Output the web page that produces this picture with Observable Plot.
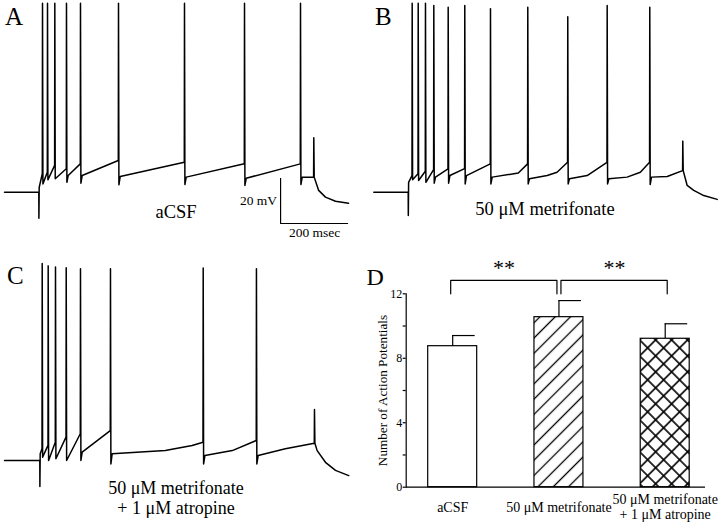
<!DOCTYPE html>
<html><head><meta charset="utf-8">
<script src="https://cdn.jsdelivr.net/npm/d3@7"></script>
<script src="https://cdn.jsdelivr.net/npm/@observablehq/plot@0.6"></script>
<style>
body{margin:0;background:#fff}
#fig{position:relative;width:720px;height:523px;background:#fff;overflow:hidden;font-family:"Liberation Serif","Times New Roman",serif}
#fig .panel{position:absolute}
#fig svg{overflow:visible}
</style></head><body><div id="fig"></div>
<script>
// ---------- Panel A-C: membrane potential traces (ms, mV) ----------
// step: [step-on time, resting level, step artifact, level right after step]
const stepA = [100.9, -65, -76.6, -62.8];
const spikeTimesA = [111.8, 126.5, 148, 182.3, 223.5, 335.3, 529.4, 705.9, 870.6];
const spikePreA   = [-56.8, -56.1, -53.1, -54.6, -52.4, -50.9, -51.7, -52.4, -52.4];
const spikePeakA  = [19, 19, 19, 19, 19, 19, 19, 19, 19];
const spikeDipA   = [-61.3, -59.5, -59.0, -60.6, -61.0, -61.7, -61.6, -62.0, -61.6];
const spikePostA  = [null, null, null, -57.6, -57.6, -58.0, -58.3, -58.8, -58.3];
const midA = [];
const offA = [909.7, -58.3, -40.8];           // step-off time, level, rebound peak
const decayA = [[924, -64.2], [944, -67.2], [973.5, -69.0], [1012, -69.9]];

const stepB = [101.2, -65, -75.4, -60.6];
const spikeTimesB = [112.9, 130.6, 152, 176.5, 218.8, 267.6, 343.2, 452.9, 570.5, 686.4, 811.7];
const spikePreB   = [-57.6, -56.8, -55.7, -55.0, -54.6, -54.5, -52.4, -52.4, -51.7, -51.7, -51.7];
const spikePeakB  = [19, 19, 19, 18, 17.2, 18, 16.5, 17.2, 13, 18, 17.2];
const spikeDipB   = [-59.5, -59.8, -60.6, -61.0, -61.0, -61.3, -61.3, -61.3, -61.3, -61.3, -61.6];
const spikePostB  = [null, null, null, -58.3, -57.6, -57.6, -58.3, -59.0, -59.0, -59.0, -58.3];
const midB = [[425, -56.5], [510, -57.6], [539, -56.1], [627.6, -57.6], [745, -58.3], [784, -56.1], [863, -58.0]];
const offB = [908.8, -55.4, -42.3];
const decayB = [[921.7, -62.0], [941, -64.2], [970.5, -66.5], [1010, -68.2]];

const stepC = [103.8, -65, -76.6, -62.0];
const spikeTimesC = [110.9, 128.5, 150, 181.5, 223.5, 311.7, 584.4, 741];
const spikePreC   = [-59.8, -58.3, -56.9, -54.6, -53.1, -51.7, -56.9, -56.1];
const spikePeakC  = [22.6, 21.5, 21, 20.7, 20.2, 20.2, 20.6, 20.2];
const spikeDipC   = [-63.5, -65, -64.2, -65, -65, -66.5, -66.5, -66.5];
const spikePostC  = [null, null, null, null, -61.3, -62.0, -62.8, -62.8];
const midC = [[473, -60.6], [552, -58.3], [670, -60.6], [826, -59.8]];
const offC = [911.7, -57.3, -42.3];
const decayC = [[919.6, -60.6], [944, -65.8], [973.5, -69.4], [1012.6, -71.7]];

// scale bar (ms, mV)
const scaleBarOrigin = [812, -78.9];
const scaleBarMs = 200;
const scaleBarMv = 20;

// ---------- Panel D: bar chart ----------
const conditions = ["aCSF", "50 μM metrifonate", "50 μM metrifonate + 1 μM atropine"];
const meanAP = [8.75, 10.55, 9.21];
const semAP  = [0.66, 1.03, 0.93];
const yTicks = [0, 2, 4, 6, 8, 10, 12];
const yTickLabels = [0, 4, 8, 12];
const comparisons = [[0, 1], [1, 2]];
const comparisonLabels = ["**", "**"];

// ---------- build ----------
const PX_PER_MS = 68 / 200;
const PX_PER_MV = 45 / 20;
const FONT = "'Liberation Serif','Times New Roman',serif";
const baseStyle = {fontFamily: FONT, color: "black", background: "transparent", overflow: "visible"};

function buildTrace(step, t, pre, peak, dip, post, mids, off, decay) {
  const [tStep, vBase, vArt, vAfter] = step;
  const pts = [[0, vBase], [tStep, vBase], [tStep + 0.3, vArt], [tStep + 1.2, vAfter]];
  t.forEach((ti, i) => {
    pts.push([ti - 0.6, pre[i]], [ti, peak[i]], [ti + 1.2, dip[i]]);
    if (post[i] != null) pts.push([ti + 5, post[i]]);
  });
  const [tOff, vOffPre, vOffPeak] = off;
  pts.push([tOff - 0.6, vOffPre], [tOff, vOffPeak], [tOff + 1.2, vOffPre]);
  for (const m of mids) pts.push(m);
  pts.sort((a, b) => a[0] - b[0]);
  for (const d of decay) pts.push(d);
  return pts;
}

function tracePlot(pts, x0, ybase, h, extra = []) {
  return Plot.plot({
    width: 360, height: h, marginTop: 0, marginRight: 0, marginBottom: 0, marginLeft: 0,
    style: baseStyle,
    x: {domain: [0, 1012], range: [x0, x0 + 1012 * PX_PER_MS], axis: null},
    y: {domain: [-80, 20], range: [ybase + 15 * PX_PER_MV, ybase - 85 * PX_PER_MV], axis: null},
    marks: [
      Plot.line(pts, {x: d => d[0], y: d => d[1], stroke: "black", strokeWidth: 1.5, strokeLinejoin: "round"}),
      ...extra
    ]
  });
}

const fig = document.getElementById("fig");
function place(node, left, top, w, h) {
  const div = document.createElement("div");
  div.className = "panel";
  div.style.left = left + "px"; div.style.top = top + "px";
  div.style.width = w + "px"; div.style.height = h + "px";
  div.appendChild(node);
  fig.appendChild(div);
}

// pattern definitions shared by the bar chart
const defs = document.createElementNS("http://www.w3.org/2000/svg", "svg");
defs.setAttribute("width", "0"); defs.setAttribute("height", "0");
defs.style.position = "absolute";
defs.innerHTML = `<defs>
<pattern id="hatch" patternUnits="userSpaceOnUse" width="10.8" height="10.8" patternTransform="rotate(45)">
<rect width="10.8" height="10.8" fill="white"/><line x1="5.4" y1="-1" x2="5.4" y2="12" stroke="black" stroke-width="1.3"/></pattern>
<pattern id="cross" patternUnits="userSpaceOnUse" width="11.3" height="11.3" patternTransform="rotate(45)">
<rect width="11.3" height="11.3" fill="white"/><line x1="5.65" y1="-1" x2="5.65" y2="12.3" stroke="black" stroke-width="1.6"/>
<line x1="-1" y1="5.65" x2="12.3" y2="5.65" stroke="black" stroke-width="1.6"/></pattern></defs>`;
fig.appendChild(defs);

const [sbT, sbV] = scaleBarOrigin;
const scaleBarMarks = [
  Plot.ruleX([sbT], {y1: sbV, y2: sbV + scaleBarMv, stroke: "black", strokeWidth: 1.2}),
  Plot.ruleY([sbV], {x1: sbT, x2: sbT + scaleBarMs, stroke: "black", strokeWidth: 1.2}),
  Plot.text([`${scaleBarMv} mV`], {text: d => d, x: sbT, y: sbV + scaleBarMv / 2, textAnchor: "end", dx: -3.5, fontSize: 13.5, fill: "black"}),
  Plot.text([`${scaleBarMs} msec`], {text: d => d, x: sbT + scaleBarMs / 2, y: sbV, lineAnchor: "top", dy: 4, fontSize: 13.5, fill: "black"})
];

place(tracePlot(buildTrace(stepA, spikeTimesA, spikePreA, spikePeakA, spikeDipA, spikePostA, midA, offA, decayA), 4, 191.7, 260, scaleBarMarks), 0, 0, 360, 260);
place(tracePlot(buildTrace(stepB, spikeTimesB, spikePreB, spikePeakB, spikeDipB, spikePostB, midB, offB, decayB), 13.3, 191.7, 260), 360, 0, 360, 260);
place(tracePlot(buildTrace(stepC, spikeTimesC, spikePreC, spikePeakC, spikeDipC, spikePostC, midC, offC, decayC), 4, 200, 263), 0, 260, 360, 263);

// Panel D
const rows = conditions.map((c, i) => ({cond: c, mean: meanAP[i], sem: semAP[i]}));
const fills = ["white", "url(#hatch)", "url(#cross)"];
function bracket(k) {
  const [a, b] = comparisons[k];
  return [
    {cond: conditions[a], v: 12}, {cond: conditions[a], v: 12.83},
    {cond: conditions[b], v: 12.83}, {cond: conditions[b], v: 12}
  ];
}
const plotD = Plot.plot({
  width: 360, height: 263,
  marginLeft: 45.7, marginRight: 15, marginTop: 33.3, marginBottom: 36.3,
  style: baseStyle,
  x: {domain: conditions, range: [67.7, 329.2], paddingInner: 0.539, paddingOuter: 0, round: false},
  y: {domain: [0, 12]},
  marks: [
    ...conditions.map((c, i) => Plot.barY(rows, {filter: d => d.cond === c, x: "cond", y: "mean", fill: fills[i], stroke: "black", strokeWidth: 1.2})),
    Plot.ruleX(rows, {x: "cond", y1: "mean", y2: d => d.mean + d.sem, stroke: "black", strokeWidth: 1.2}),
    Plot.tickY(rows, {x: "cond", y: d => d.mean + d.sem, insetLeft: 24.5, insetRight: 2, stroke: "black", strokeWidth: 1.2}),
    Plot.ruleY([0], {stroke: "black", strokeWidth: 1.2}),
    Plot.frame({anchor: "left", stroke: "black", strokeWidth: 1.2}),
    Plot.line(bracket(0), {x: "cond", y: "v", dx: -2, stroke: "black", strokeWidth: 1.2}),
    Plot.line(bracket(1), {x: "cond", y: "v", dx: 2, stroke: "black", strokeWidth: 1.2}),
    Plot.axisY({ticks: yTicks, tickSize: 3, tickPadding: 1, strokeWidth: 1.2,
      tickFormat: d => yTickLabels.includes(d) ? String(d) : "", fontSize: 12, label: null}),
    Plot.axisY({ticks: [], fontSize: 13.2,
      label: "Number of Action Potentials", labelAnchor: "center", labelOffset: 29, labelArrow: false}),
    Plot.axisX({tickSize: 0, tickPadding: 19.6, lineAnchor: "middle", fontSize: 14, lineHeight: 1.1,
      tickFormat: d => d.replace(" + ", "\n+ "), label: null})
  ]
});
plotD.querySelectorAll("text").forEach(t => { if (!t.getAttribute("fill")) t.setAttribute("fill", "black"); });
place(plotD, 360, 260, 360, 263);

// overlay text: panel letters, condition labels, significance marks
const NS = "http://www.w3.org/2000/svg";
const ov = document.createElementNS(NS, "svg");
ov.setAttribute("width", "720"); ov.setAttribute("height", "523");
ov.style.position = "absolute"; ov.style.left = "0"; ov.style.top = "0"; ov.style.pointerEvents = "none";
const texts = [
  [["A"], 5, 25, 25, "start", 0], [["B"], 375, 25, 25, "start", 0], [["C"], 7, 283.5, 25, "start", 0], [["D"], 366.5, 285, 24, "start", 0],
  [["aCSF"], 176, 218.3, 18.5, "middle", 0],
  [["50 μM metrifonate"], 545, 215, 18.5, "middle", 0],
  [["50 μM metrifonate", "+ 1 μM atropine"], 176, 494, 18, "middle", 20],
  [[comparisonLabels[0]], 504, 275, 22, "middle", 0],
  [[comparisonLabels[1]], 614.5, 275, 22, "middle", 0]
];
for (const [lines, x, y, fs, anchor, lh] of texts) {
  const t = document.createElementNS(NS, "text");
  t.setAttribute("x", x); t.setAttribute("y", y);
  t.setAttribute("font-size", fs); t.setAttribute("text-anchor", anchor);
  t.setAttribute("font-family", FONT); t.setAttribute("fill", "black");
  lines.forEach((s, i) => {
    const ts = document.createElementNS(NS, "tspan");
    ts.setAttribute("x", x);
    if (i > 0) ts.setAttribute("dy", lh);
    ts.textContent = s;
    t.appendChild(ts);
  });
  ov.appendChild(t);
}
fig.appendChild(ov);
</script></body></html>
